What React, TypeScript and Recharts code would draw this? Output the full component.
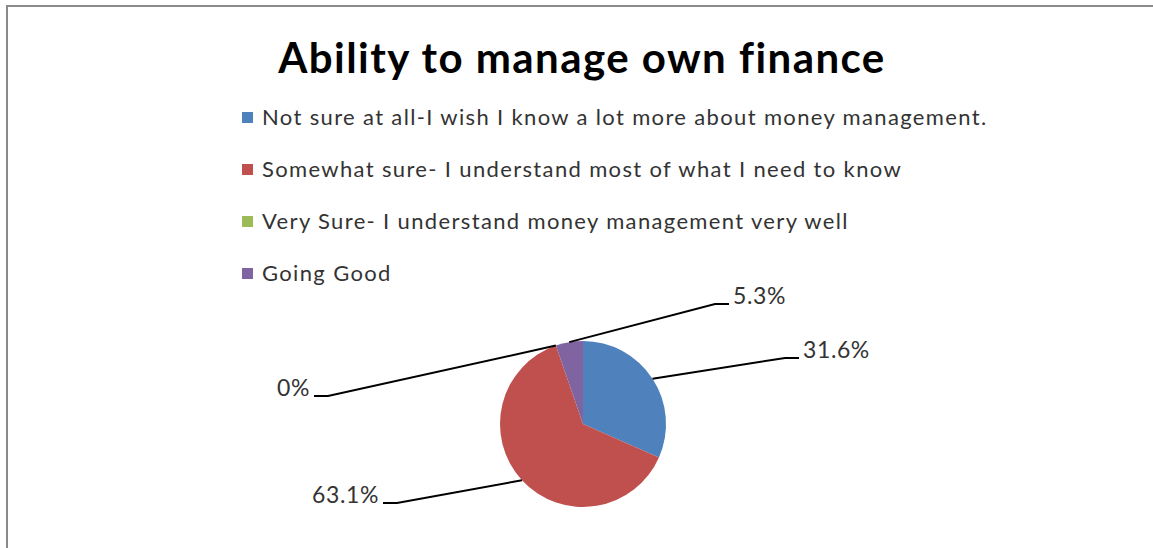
import { PieChart, Pie, Cell, Legend, Customized } from 'recharts';

const chartTitle = 'Ability to manage own finance';

const categories = [
    'Not sure at all-I wish I know a lot more about money management.',
    'Somewhat sure- I understand most of what I need to know',
    'Very Sure- I understand money management very well',
    'Going Good',
];

const shares = [31.6, 63.1, 0, 5.3];

const sliceColors = ['#4F81BD', '#C0504D', '#9BBB59', '#8064A2'];

// elbow of each leader line, relative to the pie centre
const labelElbows = [
    [202, -66],
    [-186, 79],
    [-255, -28],
    [132, -120],
];

const data = categories.map((name, i) => ({ name, value: shares[i] }));

const FONT = 'Lato, "Open Sans", sans-serif';
const RAD = Math.PI / 180;

const renderLabel = (props: any) => {
    const { cx, cy, midAngle, outerRadius, index, value } = props;
    const sx = cx + outerRadius * Math.cos(-midAngle * RAD);
    const sy = cy + outerRadius * Math.sin(-midAngle * RAD);
    const [dx, dy] = labelElbows[index];
    const ex = cx + dx;
    const ey = cy + dy;
    const dir = dx > 0 ? 1 : -1;
    const tx = ex + dir * 14;
    return (
        <g key={`lbl-${index}`}>
            <polyline
                points={`${sx},${sy} ${ex},${ey} ${tx},${ey}`}
                stroke="#000"
                strokeWidth={2}
                fill="none"
            />
            <text
                x={tx + dir * 4}
                y={ey}
                textAnchor={dir > 0 ? 'start' : 'end'}
                fontSize={23}
                letterSpacing={0.6}
                fontFamily={FONT}
                fill="#333"
            >
                {`${value}%`}
            </text>
        </g>
    );
};

const renderLegend = () => (
    <div style={{ fontFamily: FONT, fontSize: 22, letterSpacing: 1.35, color: '#333' }}>
        {categories.map((name, i) => (
            <div
                key={name}
                style={{ display: 'flex', alignItems: 'center', height: 52, lineHeight: '52px', whiteSpace: 'nowrap' }}
            >
                <span style={{ display: 'inline-block', width: 11, height: 11, background: sliceColors[i], marginRight: 9 }} />
                {name}
            </div>
        ))}
    </div>
);

const Title = () => (
    <text
        x={582}
        y={73}
        textAnchor="middle"
        fontSize={42}
        letterSpacing={1.45}
        fontWeight="bold"
        fontFamily={FONT}
        fill="#000"
    >
        {chartTitle}
    </text>
);

const App = () => {
    return (
        <div style={{ position: 'absolute', left: 0, top: 0, width: 1153, height: 548, background: '#fff', overflow: 'hidden' }}>
            <div
                style={{
                    position: 'absolute', left: 6, top: 5, width: 1147, height: 543,
                    boxSizing: 'border-box', borderTop: '2px solid #8a8a8a', borderLeft: '2px solid #8a8a8a',
                }}
            />
            <div style={{ position: 'absolute', left: 0, top: 0 }}>
                <PieChart width={1153} height={548} margin={{ top: 0, right: 0, bottom: 0, left: 0 }}>
                    <Customized component={Title} />
                    <Legend
                        layout="vertical"
                        align="center"
                        verticalAlign="middle"
                        content={renderLegend}
                        wrapperStyle={{ left: 242, top: 91, width: 880, height: 210 }}
                    />
                    <Pie
                        data={data}
                        dataKey="value"
                        nameKey="name"
                        cx={583}
                        cy={424}
                        outerRadius={83}
                        startAngle={90}
                        endAngle={-270}
                        stroke="none"
                        label={renderLabel}
                        labelLine={false}
                        isAnimationActive={false}
                    >
                        {data.map((d, i) => (
                            <Cell key={d.name} fill={sliceColors[i]} />
                        ))}
                    </Pie>
                </PieChart>
            </div>
        </div>
    );
};

export default App;
